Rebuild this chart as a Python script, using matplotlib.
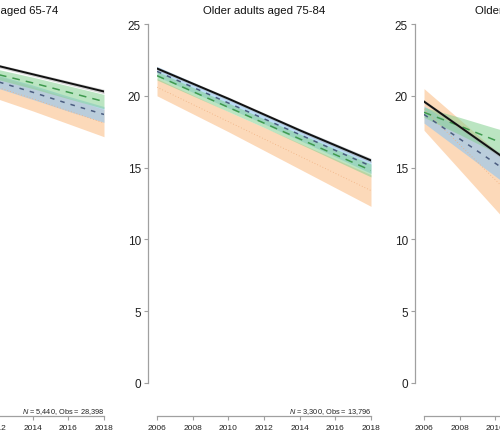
import matplotlib
matplotlib.use("Agg")
import matplotlib.pyplot as plt
import numpy as np

plt.rcParams['font.family'] = ['Liberation Sans', 'DejaVu Sans']
plt.rcParams['mathtext.fontset'] = 'custom'
plt.rcParams['mathtext.it'] = 'Liberation Sans:italic'
plt.rcParams['mathtext.rm'] = 'Liberation Sans'

# data
years = [2006, 2008, 2010, 2012, 2014, 2016, 2018]
x_ticks = [2006, 2008, 2010, 2012, 2014, 2016, 2018]
y_ticks = [0, 5, 10, 15, 20, 25]

titles = ['Older adults aged 65-74', 'Older adults aged 75-84', 'Older adults aged 85+']
notes = [r'$\it{N}$ = 5,440, Obs = 28,398', r'$\it{N}$ = 3,300, Obs = 13,796', '']

# estimates (centre) and half-widths of the intervals, per age group
black_65 = [23.8, 23.2, 22.7, 22.1, 21.5, 20.9, 20.3]
black_65_hw = [0.12, 0.12, 0.12, 0.12, 0.13, 0.14, 0.15]
green_65 = [23.45, 22.8, 22.15, 21.5, 20.9, 20.25, 19.6]
green_65_hw = [0.3, 0.3, 0.32, 0.35, 0.4, 0.45, 0.5]
blue_65 = [23.4, 22.6, 21.8, 21.0, 20.25, 19.45, 18.7]
blue_65_hw = [0.45, 0.45, 0.45, 0.45, 0.5, 0.52, 0.55]
orange_65 = [23.0, 22.2, 21.4, 20.6, 19.8, 18.95, 18.1]
orange_65_hw = [0.75, 0.75, 0.78, 0.8, 0.85, 0.9, 0.95]

black_75 = [21.9, 20.85, 19.8, 18.7, 17.6, 16.55, 15.5]
black_75_hw = [0.12, 0.12, 0.12, 0.12, 0.13, 0.14, 0.15]
green_75 = [21.4, 20.3, 19.2, 18.1, 17.0, 15.9, 14.8]
green_75_hw = [0.3, 0.3, 0.3, 0.3, 0.35, 0.4, 0.45]
blue_75 = [21.7, 20.6, 19.5, 18.4, 17.3, 16.2, 15.1]
blue_75_hw = [0.35, 0.35, 0.35, 0.35, 0.4, 0.45, 0.5]
orange_75 = [20.6, 19.4, 18.2, 17.0, 15.8, 14.6, 13.4]
orange_75_hw = [0.6, 0.65, 0.7, 0.8, 0.9, 1.0, 1.1]

black_85 = [19.6, 17.85, 16.1, 14.35, 12.6, 10.85, 9.1]
black_85_hw = [0.12, 0.13, 0.15, 0.17, 0.2, 0.22, 0.25]
green_85 = [18.85, 17.9, 16.9, 15.95, 15.0, 14.05, 13.1]
green_85_hw = [0.35, 0.6, 0.85, 1.1, 1.35, 1.6, 1.85]
blue_85 = [18.7, 17.0, 15.3, 13.6, 11.9, 10.2, 8.5]
blue_85_hw = [0.6, 0.75, 0.9, 1.05, 1.2, 1.35, 1.5]
orange_85 = [19.05, 16.6, 14.15, 11.7, 9.25, 6.8, 4.35]
orange_85_hw = [1.45, 1.75, 2.05, 2.35, 2.65, 2.95, 3.25]

panels = [
    [(orange_65, orange_65_hw), (blue_65, blue_65_hw), (green_65, green_65_hw), (black_65, black_65_hw)],
    [(orange_75, orange_75_hw), (blue_75, blue_75_hw), (green_75, green_75_hw), (black_75, black_75_hw)],
    [(orange_85, orange_85_hw), (blue_85, blue_85_hw), (green_85, green_85_hw), (black_85, black_85_hw)],
]

# styles: orange, blue, green, black
band_cols = ['#fbba80', '#8ec5f2', '#84d090', '#a0a0a0']
band_alpha = [0.55, 0.6, 0.55, 0.45]
line_cols = ['#f0b080', '#4b5d80', '#3f9a4e', '#111111']
line_styles = [(0, (1, 2.5)), (0, (3, 4)), (0, (5, 4)), '-']
line_widths = [0.6, 1.1, 1.1, 1.4]

W, H = 500, 435
fig = plt.figure(figsize=(W / 100, H / 100), dpi=100)

x0_mid = 157   # pixel of 2006 in middle panel
x_w = 214      # pixels 2006 -> 2018
step = 267     # pixels between panels
y_bot, y_top = 384, 25

for i in range(3):
    left = (x0_mid + (i - 1) * step) / W
    ax = fig.add_axes([left, (H - y_bot) / H, x_w / W, (y_bot - y_top) / H])
    for j, (m, hw) in enumerate(panels[i]):
        m = np.array(m)
        hw = np.array(hw)
        ax.fill_between(years, m - hw, m + hw, color=band_cols[j], alpha=band_alpha[j], lw=0)
    for j, (m, hw) in enumerate(panels[i]):
        ax.plot(years, m, color=line_cols[j], ls=line_styles[j], lw=line_widths[j])

    ax.set_xlim(2006, 2018)
    ax.set_ylim(0, 25)
    ax.set_xticks(x_ticks)
    ax.set_yticks(y_ticks)
    for s in ['top', 'right']:
        ax.spines[s].set_visible(False)
    ax.spines['left'].set_position(('outward', 9 * 0.72))
    ax.spines['bottom'].set_position(('outward', 33 * 0.72))
    ax.spines['left'].set_bounds(0, 25)
    ax.spines['bottom'].set_bounds(2006, 2018)
    for s in ['left', 'bottom']:
        ax.spines[s].set_color('#a0a0a0')
        ax.spines[s].set_linewidth(0.9)
    ax.tick_params(axis='y', labelsize=8.5, colors='#a0a0a0', labelcolor='#222222',
                   length=3, width=0.8, pad=2)
    ax.tick_params(axis='x', labelsize=6, colors='#a0a0a0', labelcolor='#222222',
                   length=3, width=0.8, pad=2.5)
    ax.set_title(titles[i], fontsize=8.2, color='#111111', pad=8)
    if notes[i]:
        ax.annotate(notes[i], xy=(1, 0), xycoords='axes fraction', xytext=(0, -21.5),
                    textcoords='offset points', ha='right', va='baseline',
                    fontsize=5.3, color='#222222')

fig.savefig('out.png', dpi=100)
